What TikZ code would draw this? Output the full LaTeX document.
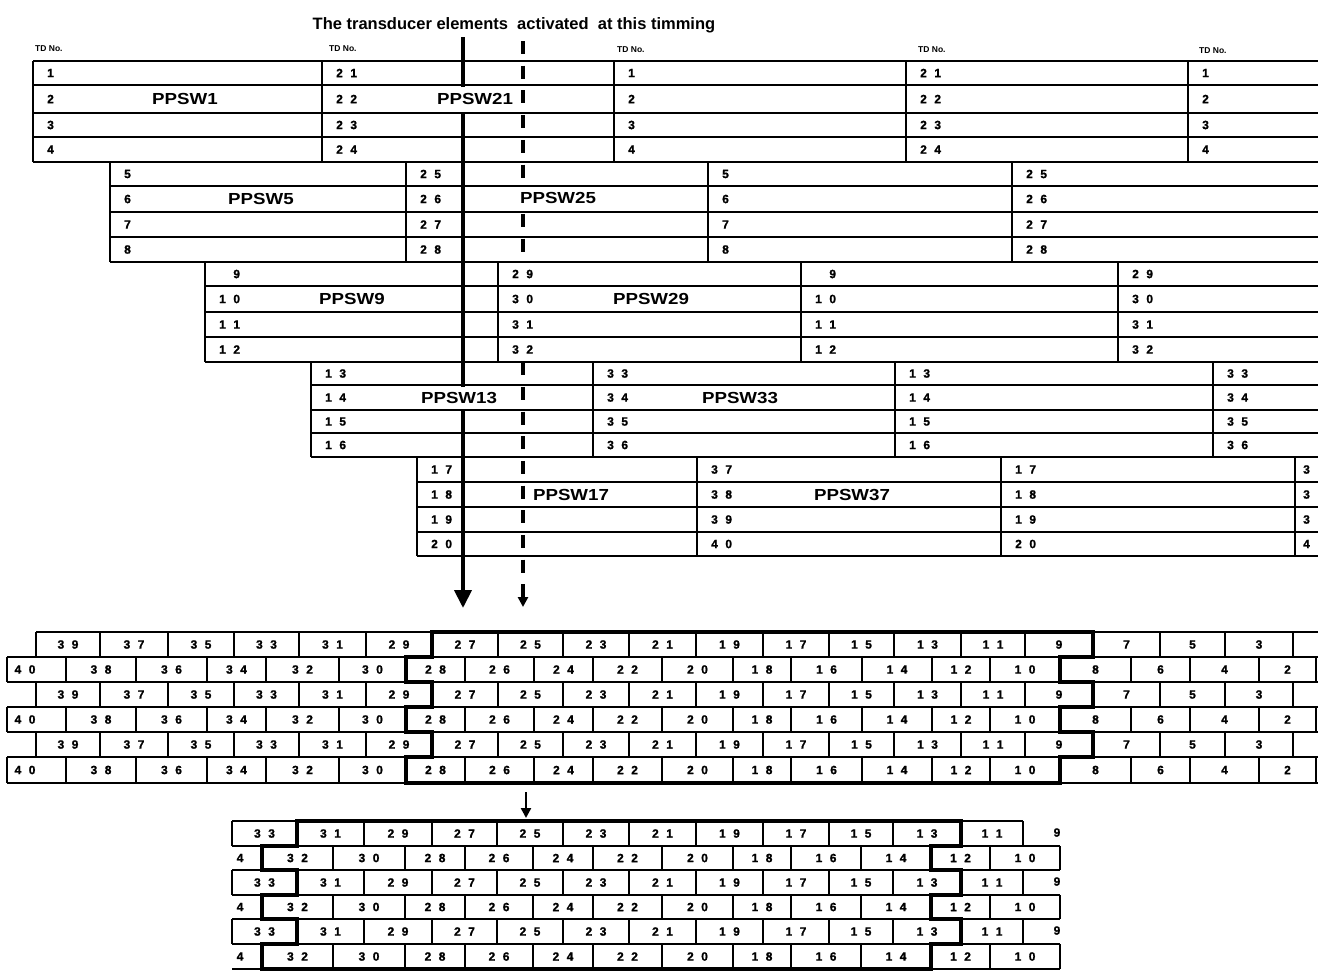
\documentclass[tikz,border=0pt]{standalone}
\usepackage{fontspec}
\setmainfont{Liberation Sans}
\newfontfamily\labf[FakeStretch=1.17]{Liberation Sans}
\newfontfamily\numf[FakeBold=1.2]{Liberation Sans}
\usetikzlibrary{arrows.meta}
\newdimen\dgap
\dgap=7.5pt
\def\spdx#1#2\relax{#1\ifx\relax#2\relax\else\kern\dgap#2\fi}
\newcommand\sd[1]{\expandafter\spdx#1\relax}
\newcommand\tn[1]{\ifnum#1=9 \phantom{0}\kern\dgap9\else\sd{#1}\fi}
\tikzset{
  grid/.style={line width=1.6pt},
  thk/.style={line width=3.4pt, line join=miter},
  tnum/.style={anchor=west, inner sep=0pt, font=\numf\bfseries\fontsize{12}{12}\selectfont},
  cnum/.style={inner sep=0pt, font=\numf\bfseries\fontsize{12}{12}\selectfont},
  lab/.style={fill=white, inner xsep=1pt, inner ysep=0pt, font=\labf\bfseries\fontsize{16}{18}\selectfont},
  tdl/.style={anchor=west, inner sep=0pt, font=\bfseries\fontsize{8.5}{9}\selectfont},
}
\newcommand\tband[8]{%
  \foreach \yy in {#2,#3,#4,#5,#6} \draw[grid] (#7,\yy) -- (1318,\yy);
  \foreach \xx/\bb [count=\k] in {#8} {%
    \draw[grid] (\xx,#2) -- (\xx,#6);
    \foreach \r/\ca/\cb in {0/#2/#3,1/#3/#4,2/#4/#5,3/#5/#6} {%
      \pgfmathtruncatemacro\vv{\bb+\r}%
      \node[tnum] (t#1-\k-\r) at (\xx+14,{(\ca+\cb)/2}) {\tn{\vv}};
    }%
  }%
}
\def\Ag{{36,100,168,234,299,366,432,498,563,629,696,763,829,894,961,1025,1093,1160,1225,1293}}
\def\Bg{{7,66,136,207,266,339,406,465,534,593,662,733,791,862,932,990,1060,1131,1190,1259,1316}}
\def\Cg{{232,297,364,432,497,563,629,696,763,829,893,961,1023}}
\def\Dg{{262,333,405,465,533,593,662,733,791,861,931,990,1060}}
\begin{document}
\begin{tikzpicture}[x=1pt,y=-1pt]
\useasboundingbox (0,0) rectangle (1318,977);
\clip (0,0) rectangle (1318,977);
\fill[white] (0,0) rectangle (1318,977);

% ---------- upper staggered bands ----------
\tband{1}{61}{85}{113}{137}{162}{33}{33/1,322/21,614/1,906/21,1188/1}
\tband{2}{162}{186}{212}{237}{262}{110}{110/5,406/25,708/5,1012/25}
\tband{4}{362}{385}{410}{433}{457}{311}{311/13,593/33,895/13,1213/33}
\tband{5}{457}{482}{507}{532}{556}{417}{417/17,697/37,1001/17}
\draw[grid] (1295,457) -- (1295,556);
\node[tnum] (t5-4-0) at (1303,469.5) {3};
\node[tnum] (t5-4-1) at (1303,494.5) {3};
\node[tnum] (t5-4-2) at (1303,519.5) {3};
\node[tnum] (t5-4-3) at (1303,544) {4};

% dashed arrow
\coordinate (d0) at (523,41);
\coordinate (d1) at (523,607);
\draw[line width=3.4pt, dash pattern=on 13pt off 11.7pt, -{Triangle[length=10pt,width=10pt]}] (d0) -- (d1);

% band 3 (covers the dashed line)
\fill[white] (205,262) rectangle (1318,362);
\tband{3}{262}{286}{312}{337}{362}{205}{205/9,498/29,801/9,1118/29}

% solid arrow
\coordinate (s0) at (463,37);
\coordinate (s1) at (463,608);
\draw[line width=4pt, -{Triangle[length=18pt,width=17pt]}] (s0) -- (s1);

% PPSW labels
\node[lab, minimum height=24pt] (p1) at (185,99) {PPSW1};
\node[lab, minimum height=25pt] (p21) at (475,99) {PPSW21};
\node[lab, minimum height=22pt] (p5) at (261,199) {PPSW5};
\node[lab, minimum height=22pt] (p25) at (558,198) {PPSW25};
\node[lab, minimum height=22pt] (p9) at (352,299) {PPSW9};
\node[lab, minimum height=22pt] (p29) at (651,299) {PPSW29};
\node[lab, minimum height=22pt] (p13) at (459,397.5) {PPSW13};
\node[lab, minimum height=22pt] (p33) at (740,397.5) {PPSW33};
\node[lab, minimum height=22pt] (p17) at (571,494.5) {PPSW17};
\node[lab, minimum height=22pt] (p37) at (852,494.5) {PPSW37};

% title and TD No.
\node[font=\bfseries\fontsize{16.5}{18}\selectfont, inner sep=0pt] (title) at (514,25) {The transducer elements\ \ activated\ \ at this timming};
\node[tdl] (td1) at (35,49) {TD No.};
\node[tdl] (td2) at (329,49) {TD No.};
\node[tdl] (td3) at (617,50) {TD No.};
\node[tdl] (td4) at (918,50) {TD No.};
\node[tdl] (td5) at (1199,51) {TD No.};

% ---------- middle brick array ----------
\draw[grid] (36,632) -- (1318,632);
\foreach \yy in {657,682,707,732,757,783} \draw[grid] (7,\yy) -- (1318,\yy);
\foreach \ya/\yb [count=\rr] in {632/657,682/707,732/757} {
  \foreach \i in {0,...,19} {\pgfmathsetmacro\xx{\Ag[\i]} \draw[grid] (\xx,\ya) -- (\xx,\yb);}
  \foreach \i in {0,...,18} {
    \pgfmathsetmacro\xl{\Ag[\i]}\pgfmathsetmacro\xr{\Ag[\i+1]}\pgfmathtruncatemacro\vv{39-2*\i}
    \node[cnum] (ma\rr-\i) at ({(\xl+\xr)/2},{(\ya+\yb)/2}) {\sd{\vv}};
  }
}
\foreach \ya/\yb [count=\rr] in {657/682,707/732,757/783} {
  \foreach \i in {0,...,20} {\pgfmathsetmacro\xx{\Bg[\i]} \draw[grid] (\xx,\ya) -- (\xx,\yb);}
  \foreach \i in {0,...,19} {
    \pgfmathsetmacro\xl{\Bg[\i]}\pgfmathsetmacro\xr{\Bg[\i+1]}\pgfmathtruncatemacro\vv{40-2*\i}
    \pgfmathsetmacro\xc{\i==0 ? 25 : (\xl+\xr)/2}
    \node[cnum] (mb\rr-\i) at (\xc,{(\ya+\yb)/2}) {\sd{\vv}};
  }
}
\draw[thk] (432,632) -- (1093,632) -- (1093,657) -- (1060,657) -- (1060,682) -- (1093,682) -- (1093,707) -- (1060,707) -- (1060,732) -- (1093,732) -- (1093,757) -- (1060,757) -- (1060,783) -- (406,783) -- (406,757) -- (432,757) -- (432,732) -- (406,732) -- (406,707) -- (432,707) -- (432,682) -- (406,682) -- (406,657) -- (432,657) -- cycle;

% small arrow
\coordinate (m0) at (526,792);
\coordinate (m1) at (526,818);
\draw[line width=2.4pt, -{Triangle[length=10pt,width=10pt]}] (m0) -- (m1);

% ---------- bottom brick array ----------
\draw[grid] (232,821) -- (1023,821);
\foreach \yy in {846,870,895,919,944,969} \draw[grid] (232,\yy) -- (1060,\yy);
\foreach \ya/\yb [count=\rr] in {821/846,870/895,919/944} {
  \foreach \i in {0,...,12} {\pgfmathsetmacro\xx{\Cg[\i]} \draw[grid] (\xx,\ya) -- (\xx,\yb);}
  \foreach \i in {0,...,11} {
    \pgfmathsetmacro\xl{\Cg[\i]}\pgfmathsetmacro\xr{\Cg[\i+1]}\pgfmathtruncatemacro\vv{33-2*\i}
    \node[cnum] (ba\rr-\i) at ({(\xl+\xr)/2},{(\ya+\yb)/2}) {\sd{\vv}};
  }
  \node[cnum] (b9-\rr) at (1057,{(\ya+\yb)/2-1}) {9};
}
\foreach \ya/\yb [count=\rr] in {846/870,895/919,944/969} {
  \foreach \i in {0,...,12} {\pgfmathsetmacro\xx{\Dg[\i]} \draw[grid] (\xx,\ya) -- (\xx,\yb);}
  \foreach \i in {0,...,11} {
    \pgfmathsetmacro\xl{\Dg[\i]}\pgfmathsetmacro\xr{\Dg[\i+1]}\pgfmathtruncatemacro\vv{32-2*\i}
    \node[cnum] (bb\rr-\i) at ({(\xl+\xr)/2},{(\ya+\yb)/2}) {\sd{\vv}};
  }
  \node[cnum] (b4-\rr) at (240,{(\ya+\yb)/2}) {4};
}
\draw[thk] (297,821) -- (961,821) -- (961,846) -- (931,846) -- (931,870) -- (961,870) -- (961,895) -- (931,895) -- (931,919) -- (961,919) -- (961,944) -- (931,944) -- (931,969) -- (262,969) -- (262,944) -- (297,944) -- (297,919) -- (262,919) -- (262,895) -- (297,895) -- (297,870) -- (262,870) -- (262,846) -- (297,846) -- cycle;
\end{tikzpicture}
\end{document}
